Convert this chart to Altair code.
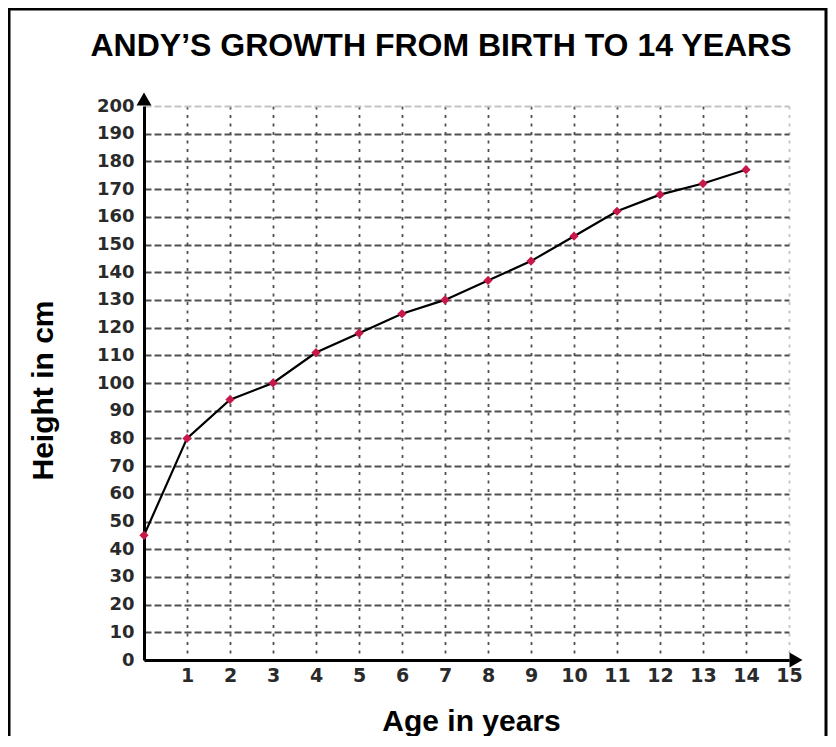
import altair as alt
import pandas as pd

# ---- data ----
ages = list(range(15))
heights = [45, 80, 94, 100, 111, 118, 125, 130, 137, 144, 153, 162, 168, 172, 177]
x_ticks = list(range(1, 16))
y_ticks = list(range(0, 201, 10))
x_domain = [0, 15]
y_domain = [0, 200]
title_text = "ANDY\u2019S GROWTH FROM BIRTH TO 14 YEARS"
x_title = "Age in years"
y_title = "Height in cm"

df = pd.DataFrame({"age": ages, "height": heights})
x_end = pd.DataFrame({"age": [x_domain[1]], "height": [y_domain[0]]})
y_end = pd.DataFrame({"age": [x_domain[0]], "height": [y_domain[1]]})
title_df = pd.DataFrame({"t": [title_text]})
frame_df = pd.DataFrame({"k": [0]})

x_scale = alt.Scale(domain=x_domain, nice=False)
y_scale = alt.Scale(domain=y_domain, nice=False)

x_axis = alt.Axis(
    values=x_ticks, tickCount=len(x_ticks) + 1, title=x_title, grid=True,
    gridDash=[3, 5.5], gridWidth=1.8,
    gridColor={"condition": {"test": "datum.value === 15", "value": "#c4c4c4"}, "value": "#505050"},
    domainColor="black", domainWidth=3, ticks=False, labelOverlap=False, labelFlush=False,
    labelFont="DejaVu Sans", labelFontWeight="bold", labelFontSize=19, labelColor="#2a2a2a",
    labelPadding=6,
    titleFont="Liberation Sans", titleFontSize=30, titleFontWeight="bold", titleColor="black",
    titleX=327, titleY=70, titleBaseline="alphabetic", titleAlign="center",
)
y_axis = alt.Axis(
    values=y_ticks, tickCount=len(y_ticks) + 1, title=y_title, grid=True,
    gridDash=[7, 3], gridWidth=1.8,
    gridColor={"condition": {"test": "datum.value === 200", "value": "#c4c4c4"}, "value": "#505050"},
    domainColor="black", domainWidth=3, ticks=False, labelOverlap=False, labelFlush=False,
    labelFont="DejaVu Sans", labelFontWeight="bold", labelFontSize=18, labelColor="#2a2a2a",
    labelPadding=10,
    titleFont="Liberation Sans", titleFontSize=30, titleFontWeight="bold", titleColor="black",
    titleX=-92, titleY=284, titleAngle=-90, titleBaseline="alphabetic", titleAlign="center",
)

base = alt.Chart(df)
line = base.mark_line(color="black", strokeWidth=2.2).encode(
    x=alt.X("age:Q", scale=x_scale, axis=x_axis),
    y=alt.Y("height:Q", scale=y_scale, axis=y_axis),
)
points = base.mark_point(shape="diamond", filled=True, size=85, color="#c8184a", opacity=1).encode(
    x=alt.X("age:Q", scale=x_scale),
    y=alt.Y("height:Q", scale=y_scale),
)
arrow_x = alt.Chart(x_end).mark_point(shape="triangle-right", filled=True, size=225,
                                       color="black", opacity=1, xOffset=7).encode(
    x=alt.X("age:Q", scale=x_scale),
    y=alt.Y("height:Q", scale=y_scale),
)
arrow_y = alt.Chart(y_end).mark_point(shape="triangle-up", filled=True, size=225,
                                       color="black", opacity=1, yOffset=-7).encode(
    x=alt.X("age:Q", scale=x_scale),
    y=alt.Y("height:Q", scale=y_scale),
)
frame = alt.Chart(frame_df).mark_rect(fillOpacity=0, stroke="black", strokeWidth=3).encode(
    x=alt.value(-135), x2=alt.value(682), y=alt.value(-97), y2=alt.value(900)
)
title = alt.Chart(title_df).mark_text(
    font="Liberation Sans", fontSize=32, fontWeight="bold", color="black",
    align="center", baseline="alphabetic",
).encode(text="t:N", x=alt.value(297), y=alt.value(-50))

chart = alt.layer(frame, line, points, arrow_x, arrow_y, title).properties(
    width=645,
    height=554,
    autosize=alt.AutoSizeParams(type="none"),
    padding={"left": 136, "top": 98, "right": 39, "bottom": 76},
    background="white",
).configure_view(strokeWidth=0)

chart.save("out.html", embed_options={"renderer": "svg", "actions": False})
